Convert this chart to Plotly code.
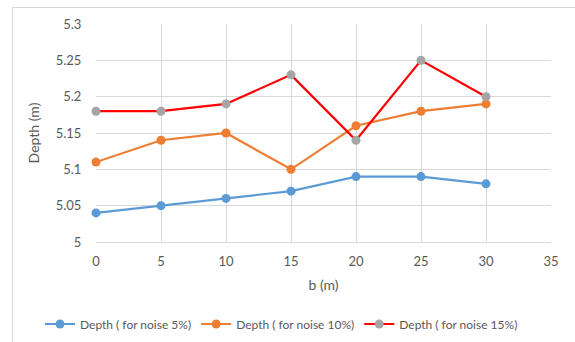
import plotly.graph_objects as go

b = [0, 5, 10, 15, 20, 25, 30]
depth_5 = [5.04, 5.05, 5.06, 5.07, 5.09, 5.09, 5.08]
depth_10 = [5.11, 5.14, 5.15, 5.10, 5.16, 5.18, 5.19]
depth_15 = [5.18, 5.18, 5.19, 5.23, 5.14, 5.25, 5.20]
names = ["Depth ( for noise 5%)", "Depth ( for noise 10%)", "Depth ( for noise 15%)"]
x_ticks = [0, 5, 10, 15, 20, 25, 30, 35]
y_ticks = [5, 5.05, 5.1, 5.15, 5.2, 5.25, 5.3]
y_ticktext = ["5", "5.05", "5.1", "5.15", "5.2", "5.25", "5.3"]

W, H = 575, 342
L, R, T, B = 96, 24, 24, 100
pw, ph = W - L - R, H - T - B

fig = go.Figure()
specs = [(depth_5, "#5B9BD5", "#5B9BD5"), (depth_10, "#ED7D31", "#ED7D31"), (depth_15, "#FF0000", "#A5A5A5")]
for (ys, lc, mc), nm in zip(specs, names):
    fig.add_trace(go.Scatter(x=b, y=ys, name=nm, mode="lines+markers", cliponaxis=False,
                             line=dict(color=lc, width=2.2), marker=dict(color=mc, size=9)))

font = dict(family="Lato, Open Sans, sans-serif", color="#595959", size=13)
fig.update_layout(
    width=W, height=H, margin=dict(l=L, r=R, t=T, b=B, autoexpand=False),
    paper_bgcolor="white", plot_bgcolor="white", font=font,
    xaxis=dict(range=[0, 35], tickvals=x_ticks, showgrid=True,
               gridcolor="#D9D9D9", gridwidth=1, zeroline=False, showline=True, linecolor="#D9D9D9",
               ticks="outside", ticklen=7, tickcolor="rgba(0,0,0,0)",
               title=dict(text="b (m)", font=dict(size=14), standoff=12)),
    yaxis=dict(range=[5, 5.3], tickvals=y_ticks, ticktext=y_ticktext,
               showgrid=True, gridcolor="#D9D9D9", gridwidth=1, zeroline=False,
               ticks="outside", ticklen=11, tickcolor="rgba(0,0,0,0)",
               title=dict(text="Depth (m)", font=dict(size=14), standoff=12)),
    legend=dict(orientation="h", x=(40 - L) / pw, xanchor="left", y=(T + ph - 324) / ph,
                yanchor="middle", font=dict(size=12), itemwidth=30, tracegroupgap=0),
    showlegend=True,
)
# outer chart-area border (left and top edges visible)
fig.add_shape(type="rect", xref="paper", yref="paper", layer="below",
              x0=(12.5 - L) / pw, x1=(W + 10 - L) / pw,
              y0=(T + ph - 7.5) / ph, y1=(T + ph - H - 10) / ph,
              line=dict(color="#D6D6D6", width=1), fillcolor="rgba(0,0,0,0)")

fig.write_html("out.html")
